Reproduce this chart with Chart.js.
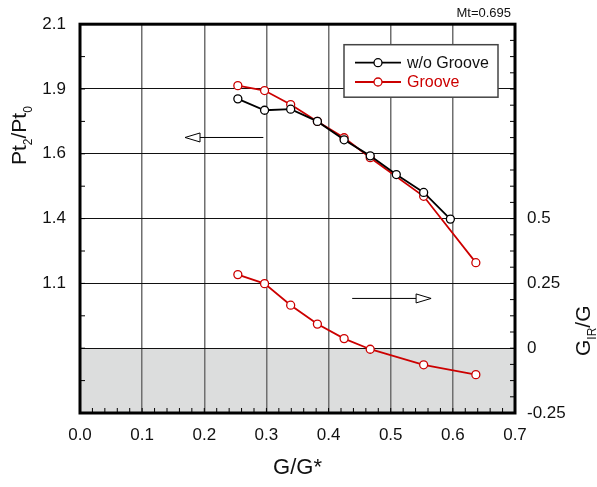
<!DOCTYPE html>
<html>
<head>
<meta charset="utf-8">
<script src="https://cdn.jsdelivr.net/npm/chart.js@4.4.1/dist/chart.umd.min.js"></script>
<style>
  body { margin: 0; background: #fff; }
  #wrap { width: 597px; height: 487px; }
</style>
</head>
<body>
<div id="wrap"><canvas id="chart"></canvas></div>
<script>
        // tick labels as printed on the original figure
        var xTickLabels = ['0.0', '0.1', '0.2', '0.3', '0.4', '0.5', '0.6', '0.7'];
        var leftTickLabels = ['', '', '1.1', '1.4', '1.6', '1.9', '2.1'];
        var rightTickLabels = ['-0.25', '0', '0.25', '0.5', '', '', ''];

        // Pt2/Pt0 without groove
        var noGrooveX = [0.254, 0.297, 0.339, 0.382, 0.425, 0.467, 0.509, 0.553, 0.596];
        var noGrooveY = [1.812, 1.768, 1.772, 1.725, 1.654, 1.592, 1.520, 1.451, 1.348];

        // Pt2/Pt0 with groove
        var grooveX = [0.254, 0.297, 0.339, 0.382, 0.425, 0.467, 0.553, 0.637];
        var grooveY = [1.863, 1.844, 1.790, 1.725, 1.662, 1.585, 1.436, 1.180];

        // GIR/G with groove (right axis)
        var girX = [0.254, 0.297, 0.339, 0.382, 0.425, 0.467, 0.553, 0.637];
        var girY = [0.284, 0.249, 0.166, 0.093, 0.037, -0.004, -0.064, -0.102];

        // arrows pointing to the axis each curve belongs to
        var arrows = [
            {axis: 'y', y: 1.663, x0: 0.295, x1: 0.169},
            {axis: 'y1', y: 0.192, x0: 0.438, x1: 0.565}
        ];

        function toPoints(xs, ys) {
            return xs.map(function (x, i) { return {x: x, y: ys[i]}; });
        }

        Chart.defaults.font.family = "'Liberation Sans', Arial, sans-serif";
        Chart.defaults.color = '#111';

        var RED = '#cc0000';

        var decor = {
            id: 'decor',
            beforeDraw: function (chart) {
                const {ctx, chartArea} = chart;
                const y1 = chart.scales.y1;
                ctx.save();
                ctx.fillStyle = '#fff';
                ctx.fillRect(0, 0, chart.width, chart.height);
                // shaded region below GIR/G = 0
                const zero = y1.getPixelForValue(0);
                ctx.fillStyle = '#dcdddd';
                ctx.fillRect(chartArea.left, zero, chartArea.right - chartArea.left, chartArea.bottom - zero);
                ctx.restore();
            },
            afterDatasetsDraw: function (chart) {
                const {ctx} = chart;
                const xs = chart.scales.x;
                ctx.save();
                ctx.strokeStyle = '#000';
                ctx.fillStyle = '#fff';
                ctx.lineWidth = 1;
                arrows.forEach(function (a) {
                    const py = chart.scales[a.axis].getPixelForValue(a.y);
                    const p0 = xs.getPixelForValue(a.x0);
                    const p1 = xs.getPixelForValue(a.x1);
                    const dir = p1 > p0 ? 1 : -1;
                    const base = p1 - dir * 15;
                    ctx.beginPath();
                    ctx.moveTo(p0, py);
                    ctx.lineTo(base, py);
                    ctx.stroke();
                    ctx.beginPath();
                    ctx.moveTo(p1, py);
                    ctx.lineTo(base, py - 4.5);
                    ctx.lineTo(base, py + 4.5);
                    ctx.closePath();
                    ctx.fill();
                    ctx.stroke();
                });
                ctx.restore();
            },
            afterDraw: function (chart) {
                const {ctx, chartArea} = chart;
                const {left, right, top, bottom} = chartArea;
                const xs = chart.scales.x, ys = chart.scales.y, y1 = chart.scales.y1;
                ctx.save();

                // minor ticks, pointing inwards
                ctx.strokeStyle = '#000';
                ctx.lineWidth = 1;
                ctx.beginPath();
                for (let i = 0; i <= 35; i++) {
                    const px = xs.getPixelForValue(i * 0.02);
                    ctx.moveTo(px, bottom);
                    ctx.lineTo(px, bottom - 5);
                }
                for (let i = 0; i <= 12; i++) {
                    const py = ys.getPixelForValue(0.6 + i * 0.125);
                    ctx.moveTo(left, py);
                    ctx.lineTo(left + 5, py);
                }
                for (let i = 0; i <= 24; i++) {
                    const py = y1.getPixelForValue(-0.25 + i * 0.0625);
                    ctx.moveTo(right, py);
                    ctx.lineTo(right - 5, py);
                }
                ctx.stroke();

                // thick frame
                ctx.lineWidth = 3;
                ctx.strokeRect(left, top, right - left, bottom - top);

                // legend box
                const lx = right - 171, ly = top + 20.5;
                ctx.fillStyle = '#fff';
                ctx.fillRect(lx, ly, 154, 52.5);
                ctx.strokeStyle = '#444';
                ctx.lineWidth = 1.5;
                ctx.strokeRect(lx, ly, 154, 52.5);
                ctx.font = "16px 'Liberation Sans', Arial, sans-serif";
                ctx.textBaseline = 'middle';
                ctx.textAlign = 'left';
                chart.data.datasets.filter(function (d) { return !d.noLegend; }).forEach(function (d, i) {
                    const ey = ly + 18 + i * 19.3;
                    ctx.strokeStyle = d.borderColor;
                    ctx.lineWidth = d.borderWidth;
                    ctx.beginPath();
                    ctx.moveTo(lx + 11, ey);
                    ctx.lineTo(lx + 57, ey);
                    ctx.stroke();
                    ctx.beginPath();
                    ctx.arc(lx + 34, ey, 4, 0, Math.PI * 2);
                    ctx.fillStyle = '#fff';
                    ctx.fill();
                    ctx.lineWidth = d.pointBorderWidth;
                    ctx.stroke();
                    ctx.fillStyle = d.labelColor;
                    ctx.fillText(d.label, lx + 63, ey + 1);
                });

                // Mt label
                ctx.fillStyle = '#111';
                ctx.textBaseline = 'alphabetic';
                ctx.textAlign = 'right';
                ctx.font = "13px 'Liberation Sans', Arial, sans-serif";
                ctx.fillText('Mt=0.695', right - 4, 17);

                // axis titles with subscripts
                function rich(parts, x, y) {
                    ctx.save();
                    ctx.translate(x, y);
                    ctx.rotate(-Math.PI / 2);
                    ctx.textAlign = 'left';
                    let pos = 0;
                    parts.forEach(function (p) {
                        ctx.font = (p.sub ? '12px' : '21px') + " 'Liberation Sans', Arial, sans-serif";
                        ctx.fillText(p.t, pos, p.sub ? 6 : 0);
                        pos += ctx.measureText(p.t).width;
                    });
                    ctx.restore();
                }
                ctx.fillStyle = '#111';
                rich([{t: 'Pt'}, {t: '2', sub: true}, {t: '/Pt'}, {t: '0', sub: true}], 26, 165);
                rich([{t: 'G'}, {t: 'IR', sub: true}, {t: '/G'}], 590, 356);

                ctx.textAlign = 'center';
                ctx.font = "22px 'Liberation Sans', Arial, sans-serif";
                ctx.fillText('G/G*', (left + right) / 2, 474);

                ctx.restore();
            }
        };

        const cv = document.getElementById('chart');
        new Chart(cv, {
            type: 'scatter',
            data: {
                datasets: [{
                    label: 'w/o Groove',
                    data: toPoints(noGrooveX, noGrooveY),
                    yAxisID: 'y',
                    showLine: true,
                    borderColor: '#000',
                    labelColor: '#111',
                    borderWidth: 1.8,
                    pointRadius: 4,
                    pointBorderWidth: 1.3,
                    pointBackgroundColor: '#fff',
                    pointBorderColor: '#000'
                }, {
                    label: 'Groove',
                    data: toPoints(grooveX, grooveY),
                    yAxisID: 'y',
                    showLine: true,
                    borderColor: RED,
                    labelColor: RED,
                    borderWidth: 1.8,
                    pointRadius: 4,
                    pointBorderWidth: 1.3,
                    pointBackgroundColor: '#fff',
                    pointBorderColor: RED
                }, {
                    label: 'Groove GIR/G',
                    noLegend: true,
                    data: toPoints(girX, girY),
                    yAxisID: 'y1',
                    showLine: true,
                    borderColor: RED,
                    borderWidth: 1.8,
                    pointRadius: 4,
                    pointBorderWidth: 1.3,
                    pointBackgroundColor: '#fff',
                    pointBorderColor: RED
                }]
            },
            options: {
                animation: false,
                responsive: true,
                maintainAspectRatio: false,
                events: [],
                layout: {padding: {top: 23, left: 0, right: 0, bottom: 0}},
                plugins: {
                    legend: {display: false},
                    tooltip: {enabled: false}
                },
                scales: {
                    x: {
                        type: 'linear',
                        min: 0,
                        max: 0.7,
                        afterFit: function (s) { s.height = 74; },
                        border: {display: false},
                        grid: {color: '#6f6f6f', lineWidth: 1.5, drawTicks: false},
                        ticks: {
                            stepSize: 0.1,
                            padding: 12,
                            font: {size: 17},
                            callback: function (v, i) { return xTickLabels[i]; }
                        }
                    },
                    y: {
                        position: 'left',
                        min: 0.6,
                        max: 2.1,
                        afterFit: function (s) { s.width = 80; },
                        border: {display: false},
                        grid: {color: '#111', lineWidth: 1.1, drawTicks: false},
                        ticks: {
                            stepSize: 0.25,
                            padding: 14,
                            font: {size: 17},
                            callback: function (v, i) { return leftTickLabels[i]; }
                        }
                    },
                    y1: {
                        position: 'right',
                        min: -0.25,
                        max: 1.25,
                        afterFit: function (s) { s.width = 82; },
                        border: {display: false},
                        grid: {drawOnChartArea: false, drawTicks: false},
                        ticks: {
                            stepSize: 0.25,
                            padding: 12,
                            font: {size: 17},
                            callback: function (v, i) { return rightTickLabels[i]; }
                        }
                    }
                }
            },
            plugins: [decor]
        });
</script>
</body>
</html>
